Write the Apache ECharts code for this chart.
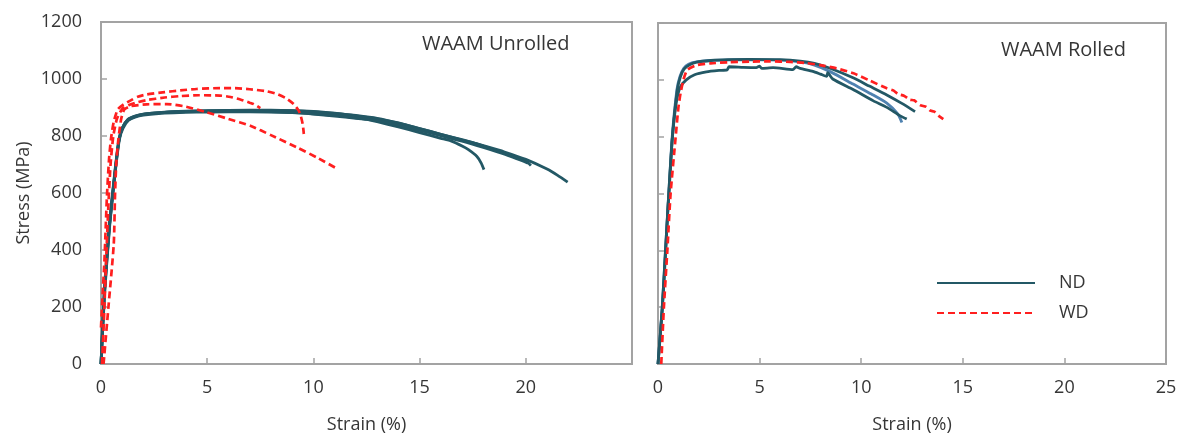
<!DOCTYPE html>
<html>
<head>
<meta charset="utf-8">
<script src="https://cdn.jsdelivr.net/npm/echarts@6/dist/echarts.min.js"></script>
<style>
html,body{margin:0;padding:0;background:#fff;}
#chart{width:1192px;height:434px;}
</style>
</head>
<body>
<div id="chart"></div>
<script>
// ---------- DATA (strain %, stress MPa) ----------
const xTicks = [0, 5, 10, 15, 20, 25];
const yTicks = [0, 200, 400, 600, 800, 1000, 1200];
const panelTitles = ['WAAM Unrolled', 'WAAM Rolled'];
const seriesNames = ['ND', 'WD'];

// Unrolled, ND
const unrolledND1 = [[0,0],[0.16,245],[0.39,475],[0.55,595],[0.71,705],[0.86,790],[1.02,830],[1.26,858],[1.6,870],[2,877],[3,883],[4,886],[5,887],[6,888],[7,888],[8,886],[9,883],[10,877],[11,870],[12,862],[12.5,858],[13,850],[14,832],[15,812],[16,792],[16.5,782],[17,765],[17.3,752],[17.7,728],[17.9,705],[18.03,682]];
const unrolledND2 = [[0,0],[0.14,240],[0.37,470],[0.53,590],[0.69,700],[0.84,785],[1.0,828],[1.25,855],[1.6,868],[2,876],[3,883],[4,886],[5,888],[7,890],[9,889],[10,886],[11,880],[12,872],[13,862],[14,846],[15,826],[16,806],[17,786],[17.5,777],[18,765],[19,740],[20,712],[20.24,696]];
const unrolledND3 = [[0,0],[0.15,242],[0.38,472],[0.54,592],[0.7,702],[0.85,787],[1.01,829],[1.25,856],[1.6,869],[2,877],[3,884],[4,887],[5,889],[7,891],[9,889],[10,885],[11,879],[12,871],[13,860],[14,845],[15,826],[16,806],[17,787],[18,766],[19,744],[20,718],[21,684],[21.5,662],[21.97,638]];
const unrolledND4 = [[0,0],[0.17,247],[0.4,476],[0.56,596],[0.72,706],[0.87,789],[1.04,828],[1.3,855],[1.6,866],[2,873],[3,880],[4,883],[5,884],[7,885],[9,882],[10,878],[11,872],[12,864],[13,853],[14,838],[15,820],[16,801],[17,782],[18,760],[19,736],[20.1,705]];

// Unrolled, WD
const unrolledWD1 = [[0,128],[0.08,250],[0.16,360],[0.28,590],[0.38,720],[0.47,790],[0.6,850],[0.79,893],[1.05,910],[1.4,925],[1.73,938],[2.15,946],[3,954],[3.73,960],[4.5,965],[5.6,968],[6.3,968],[7,964],[7.8,957],[8.3,947],[8.7,933],[9.07,912],[9.3,890],[9.4,872],[9.5,840],[9.55,807]];
const unrolledWD2 = [[0.05,0],[0.15,180],[0.25,380],[0.35,560],[0.45,700],[0.58,800],[0.75,860],[1.0,895],[1.3,908],[1.7,918],[2.15,926],[3,935],[3.73,940],[4.6,943],[5.6,942],[6.1,937],[6.56,928],[7.0,917],[7.19,912],[7.5,898]];
const unrolledWD3 = [[0.12,0],[0.35,200],[0.6,420],[0.66,593],[0.72,705],[0.82,790],[0.95,860],[1.1,893],[1.41,905],[2.15,911],[3.1,912],[4,903],[4.98,883],[6,860],[7.03,836],[8,803],[9.23,760],[10.2,723],[11.1,686]];

// Rolled, ND
const rolledND1 = [[0,0],[0.22,200],[0.38,400],[0.5,560],[0.54,600],[0.71,800],[0.95,965],[1.1,1010],[1.28,1038],[1.56,1053],[1.9,1062],[2.6,1068],[3.45,1071],[4.5,1072],[6,1071],[7,1066],[7.7,1058],[8.5,1040],[9.6,1007],[10.4,978],[11.26,947],[12,917],[12.65,888]];
const rolledND2 = [[0,0],[0.21,200],[0.37,400],[0.53,600],[0.7,800],[0.93,965],[1.08,1012],[1.26,1040],[1.5,1055],[1.9,1063],[2.6,1068],[3.5,1070],[4.5,1071],[6,1069],[7,1063],[7.7,1052],[8.5,1028],[9.6,985],[10.5,950],[11.26,918],[11.8,880],[12.0,850]];
const rolledND3 = [[0,0],[0.2,190],[0.36,390],[0.52,590],[0.7,790],[0.9,920],[1.1,975],[1.39,1000],[1.8,1018],[2.38,1028],[3.0,1033],[3.4,1035],[3.5,1046],[4.2,1044],[4.84,1043],[5.0,1048],[5.1,1040],[5.66,1043],[6.64,1036],[6.8,1046],[7.0,1040],[7.62,1030],[8.0,1020],[8.3,1012],[8.35,1025],[8.6,1003],[9.6,966],[10.6,926],[11.26,903],[11.9,874],[12.24,862]];

// Rolled, WD
const rolledWD1 = [[0.16,0],[0.29,200],[0.46,400],[0.62,600],[0.87,800],[1.0,900],[1.11,953],[1.25,1000],[1.44,1035],[1.93,1052],[2.6,1058],[3.5,1062],[4.5,1064],[5.5,1065],[6.5,1063],[7.3,1059],[7.98,1052],[8.8,1040],[9.62,1023],[10.4,998],[11.26,970],[11.6,962],[11.8,950],[12.1,944],[12.4,930],[12.6,928],[12.9,911],[13.2,905],[13.4,892],[13.6,888],[13.8,874],[14.04,862]];

// ---------- STYLE ----------
const ND_COLOR = '#235865';
const ND_BLUE = '#4f82b0';
const WD_COLOR = '#ff1f1f';
const AXIS_COLOR = '#a3a3a3';
const TEXT_COLOR = '#363636';
const FONT = 'Open Sans';
const FS = 18;

function ndSeries(data, gi, color, z) {
  return { name: 'ND', type: 'line', xAxisIndex: gi, yAxisIndex: gi, data: data,
    symbol: 'none', smooth: 0.2, z: z || 2, color: color || ND_COLOR,
    lineStyle: { color: color || ND_COLOR, width: 2.8 } };
}
function wdSeries(data, gi) {
  return { name: 'WD', type: 'line', xAxisIndex: gi, yAxisIndex: gi, data: data,
    symbol: 'none', smooth: 0.2, z: 3, color: WD_COLOR,
    lineStyle: { color: WD_COLOR, width: 2.7, type: [7, 4] } };
}

function xAxis(gi, showMax) {
  return { type: 'value', gridIndex: gi, min: 0, max: 25, interval: 5,
    name: 'Strain (%)', nameLocation: 'middle', nameGap: 52,
    nameTextStyle: { color: TEXT_COLOR, fontFamily: FONT, fontSize: FS },
    axisLine: { show: true, lineStyle: { color: AXIS_COLOR, width: 2 } },
    axisTick: { show: true, inside: true, length: 6, lineStyle: { color: AXIS_COLOR, width: 1.5 } },
    axisLabel: { color: TEXT_COLOR, fontFamily: FONT, fontSize: FS, margin: 15, showMaxLabel: showMax,
      formatter: v => (xTicks.indexOf(v) >= 0 ? String(v) : '') },
    splitLine: { show: false } };
}
function yAxis(gi, showLabels) {
  return { type: 'value', gridIndex: gi, min: 0, max: 1200, interval: 200,
    name: showLabels ? 'Stress (MPa)' : '', nameLocation: 'middle', nameGap: 68,
    nameTextStyle: { color: TEXT_COLOR, fontFamily: FONT, fontSize: FS },
    axisLine: { show: true, lineStyle: { color: AXIS_COLOR, width: 2 } },
    axisTick: { show: true, inside: true, length: 6, lineStyle: { color: AXIS_COLOR, width: 1.5 } },
    axisLabel: { show: showLabels, color: TEXT_COLOR, fontFamily: FONT, fontSize: FS, margin: 19,
      formatter: v => (yTicks.indexOf(v) >= 0 ? String(v) : '') },
    splitLine: { show: false } };
}

const chart = echarts.init(document.getElementById('chart'), null, { renderer: 'canvas' });
chart.setOption({
  backgroundColor: '#ffffff',
  animation: false,
  textStyle: { fontFamily: FONT },
  grid: [
    { left: 101, top: 22, width: 531, height: 342, outerBoundsMode: 'none', containLabel: false, show: true, borderColor: AXIS_COLOR, borderWidth: 2, backgroundColor: 'transparent' },
    { left: 658, top: 23, width: 508, height: 341, outerBoundsMode: 'none', containLabel: false, show: true, borderColor: AXIS_COLOR, borderWidth: 2, backgroundColor: 'transparent' }
  ],
  xAxis: [xAxis(0, false), xAxis(1, true)],
  yAxis: [yAxis(0, true), yAxis(1, false)],
  legend: {
    data: seriesNames,
    orient: 'vertical',
    left: 931, top: 269,
    itemWidth: 98, itemHeight: 16, itemGap: 12,
    itemStyle: { opacity: 0 },
    textStyle: { color: TEXT_COLOR, fontFamily: FONT, fontSize: FS, padding: [0, 0, 0, 19] },
    selectedMode: false
  },
  graphic: [
    { type: 'text', left: 422, top: 34, style: { text: panelTitles[0], fill: TEXT_COLOR, font: '20px "Open Sans"' } },
    { type: 'text', left: 1001, top: 40, style: { text: panelTitles[1], fill: TEXT_COLOR, font: '20px "Open Sans"' } }
  ],
  series: [
    ndSeries(unrolledND1, 0), ndSeries(unrolledND2, 0), ndSeries(unrolledND3, 0), ndSeries(unrolledND4, 0),
    wdSeries(unrolledWD1, 0), wdSeries(unrolledWD2, 0), wdSeries(unrolledWD3, 0),
    ndSeries(rolledND2, 1, ND_BLUE, 1), ndSeries(rolledND1, 1), ndSeries(rolledND3, 1),
    wdSeries(rolledWD1, 1)
  ]
});
</script>
</body>
</html>
